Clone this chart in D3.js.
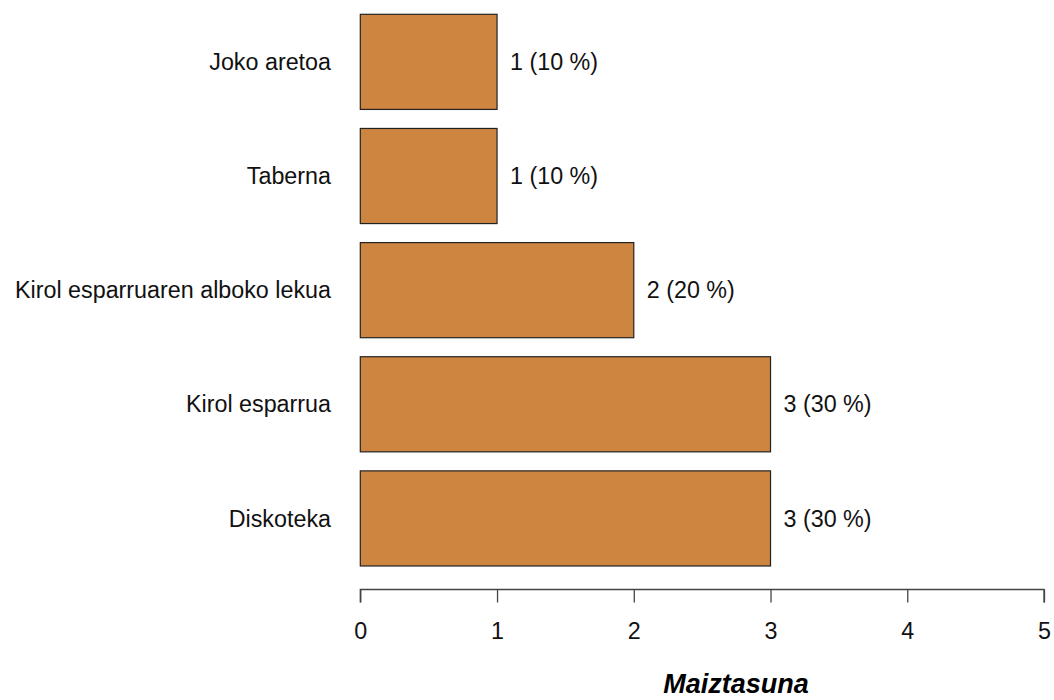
<!DOCTYPE html>
<html><head><meta charset="utf-8">
<script src="https://cdn.jsdelivr.net/npm/d3@7"></script>
<style>body{margin:0;background:#fff}svg{display:block}text{font-family:"Liberation Sans",Arial,sans-serif}</style>
</head><body>
<script>
const categories = ["Joko aretoa","Taberna","Kirol esparruaren alboko lekua","Kirol esparrua","Diskoteka"];
const values = [1,1,2,3,3];
const percents = [10,10,20,30,30];
const ticks = [0,1,2,3,4,5];
const xTitle = "Maiztasuna";

const W=1054,H=700;
const svg=d3.select("body").append("svg").attr("width",W).attr("height",H);
const x=d3.scaleLinear().domain([0,5]).range([360.3,1044]);
const y=d3.scaleBand().domain(categories).range([4.8,575.5]).paddingInner(0.2/1.2).paddingOuter(0.1/1.2);
const fs=23.3;

svg.selectAll("rect.bar").data(categories).join("rect")
  .attr("x",x(0)).attr("y",d=>y(d)).attr("width",(d,i)=>x(values[i])-x(0)).attr("height",y.bandwidth())
  .attr("fill","#CD853F").attr("stroke","#222").attr("stroke-width",1.2);

svg.selectAll("text.cat").data(categories).join("text")
  .attr("x",331).attr("y",d=>y(d)+y.bandwidth()/2).attr("dy","0.35em")
  .attr("text-anchor","end").attr("font-size",fs).attr("fill","#111").text(d=>d);

svg.selectAll("text.val").data(categories).join("text")
  .attr("x",(d,i)=>x(values[i])+13).attr("y",d=>y(d)+y.bandwidth()/2).attr("dy","0.35em")
  .attr("font-size",fs).attr("fill","#111").text((d,i)=>`${values[i]} (${percents[i]} %)`);

const axis=d3.axisBottom(x).tickValues(ticks).tickSize(13).tickPadding(32).tickFormat(d3.format("d"));
const g=svg.append("g").attr("transform","translate(0,589.5)").call(axis);
g.select(".domain").attr("stroke","#444").attr("stroke-width",1.3).attr("d",`M${x(0)},13V0H${x(5)}V13`);
g.selectAll(".tick line").attr("stroke","#444").attr("stroke-width",1.3);
g.selectAll(".tick text").attr("font-size",fs).attr("fill","#111").attr("font-family","Liberation Sans, Arial, sans-serif").attr("dy",0).attr("y",49.5);

svg.append("text").attr("x",736).attr("y",693).attr("text-anchor","middle")
  .attr("font-size",27).attr("font-weight","bold").attr("font-style","italic").attr("fill","#000").text(xTitle);
</script>
</body></html>
